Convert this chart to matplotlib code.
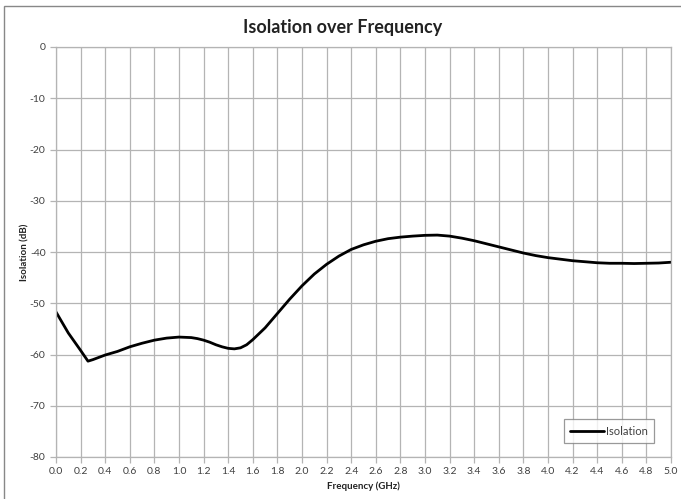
import matplotlib
matplotlib.use("Agg")
import matplotlib.pyplot as plt
from matplotlib.patches import Rectangle
import numpy as np

freq_ghz = [0.0, 0.1, 0.2, 0.26, 0.3, 0.4, 0.5, 0.6, 0.7, 0.8, 0.9, 1.0, 1.1, 1.15, 1.2,
            1.25, 1.3, 1.35, 1.4, 1.45, 1.5, 1.55, 1.6, 1.7, 1.8, 1.9, 2.0, 2.1, 2.2, 2.3,
            2.4, 2.5, 2.6, 2.7, 2.8, 2.9, 3.0, 3.1, 3.2, 3.3, 3.4, 3.5, 3.6, 3.7, 3.8,
            3.9, 4.0, 4.1, 4.2, 4.3, 4.4, 4.5, 4.6, 4.7, 4.8, 4.9, 5.0]
isolation_db = [-51.7, -55.8, -59.2, -61.3, -61.0, -60.1, -59.4, -58.5, -57.8, -57.2,
                -56.8, -56.6, -56.7, -56.9, -57.2, -57.6, -58.1, -58.5, -58.8, -58.9,
                -58.7, -58.1, -57.1, -54.8, -52.0, -49.2, -46.6, -44.3, -42.4, -40.8,
                -39.5, -38.6, -37.9, -37.4, -37.1, -36.9, -36.75, -36.7, -36.9, -37.3,
                -37.8, -38.4, -39.0, -39.6, -40.2, -40.7, -41.1, -41.4, -41.7, -41.9,
                -42.1, -42.2, -42.2, -42.25, -42.2, -42.15, -42.0]

x_ticks = [round(0.2 * i, 1) for i in range(26)]
y_ticks = list(range(-80, 1, 10))

plt.rcParams['font.family'] = ['Lato', 'DejaVu Sans']
plt.rcParams['axes.unicode_minus'] = False

fig = plt.figure(figsize=(6.81, 4.99), dpi=100)
ax = fig.add_axes([56 / 681, 1 - 457 / 499, (671 - 56) / 681, (457 - 47) / 499])

# chart border (right and bottom edges fall outside the picture)
fig.patches.append(Rectangle((4 / 681, -0.02), 1.0, 1 - 6 / 499 + 0.02,
                             transform=fig.transFigure, fill=False,
                             edgecolor='#888888', linewidth=1.0))

ax.plot(freq_ghz, isolation_db, color='black', linewidth=2.0, label='Isolation',
        solid_capstyle='round', solid_joinstyle='round')

ax.set_xlim(0, 5.0)
ax.set_ylim(-80, 0)
ax.set_xticks(x_ticks)
ax.set_xticklabels([f"{v:.1f}" for v in x_ticks])
ax.set_yticks(y_ticks)
ax.grid(True, color='#b4b4b4', linewidth=0.9)
ax.set_axisbelow(True)
for s in ax.spines.values():
    s.set_color('#b4b4b4')
    s.set_linewidth(0.9)
ax.tick_params(axis='both', colors='#b4b4b4', labelcolor='#404040', labelsize=7.5,
               length=4, width=0.9)
ax.tick_params(axis='x', pad=3)

fig.text(343 / 681, 1 - 28 / 499, 'Isolation over Frequency', fontsize=13,
         fontweight='bold', color='#222222', ha='center', va='center')
ax.set_xlabel('Frequency (GHz)', fontsize=7, fontweight='bold', color='#222222',
              labelpad=4)
ax.set_ylabel('Isolation (dB)', fontsize=7, fontweight='bold', color='#222222',
              labelpad=0.5)

leg = ax.legend(loc='lower right', bbox_to_anchor=(0.972, 0.035), fontsize=8,
                frameon=True, fancybox=False, handlelength=3.0, handletextpad=0.2,
                borderpad=0.55, borderaxespad=0)
leg.get_frame().set_edgecolor('#808080')
leg.get_frame().set_linewidth(0.9)
for t in leg.get_texts():
    t.set_color('#404040')

fig.savefig('out.png', dpi=100)
